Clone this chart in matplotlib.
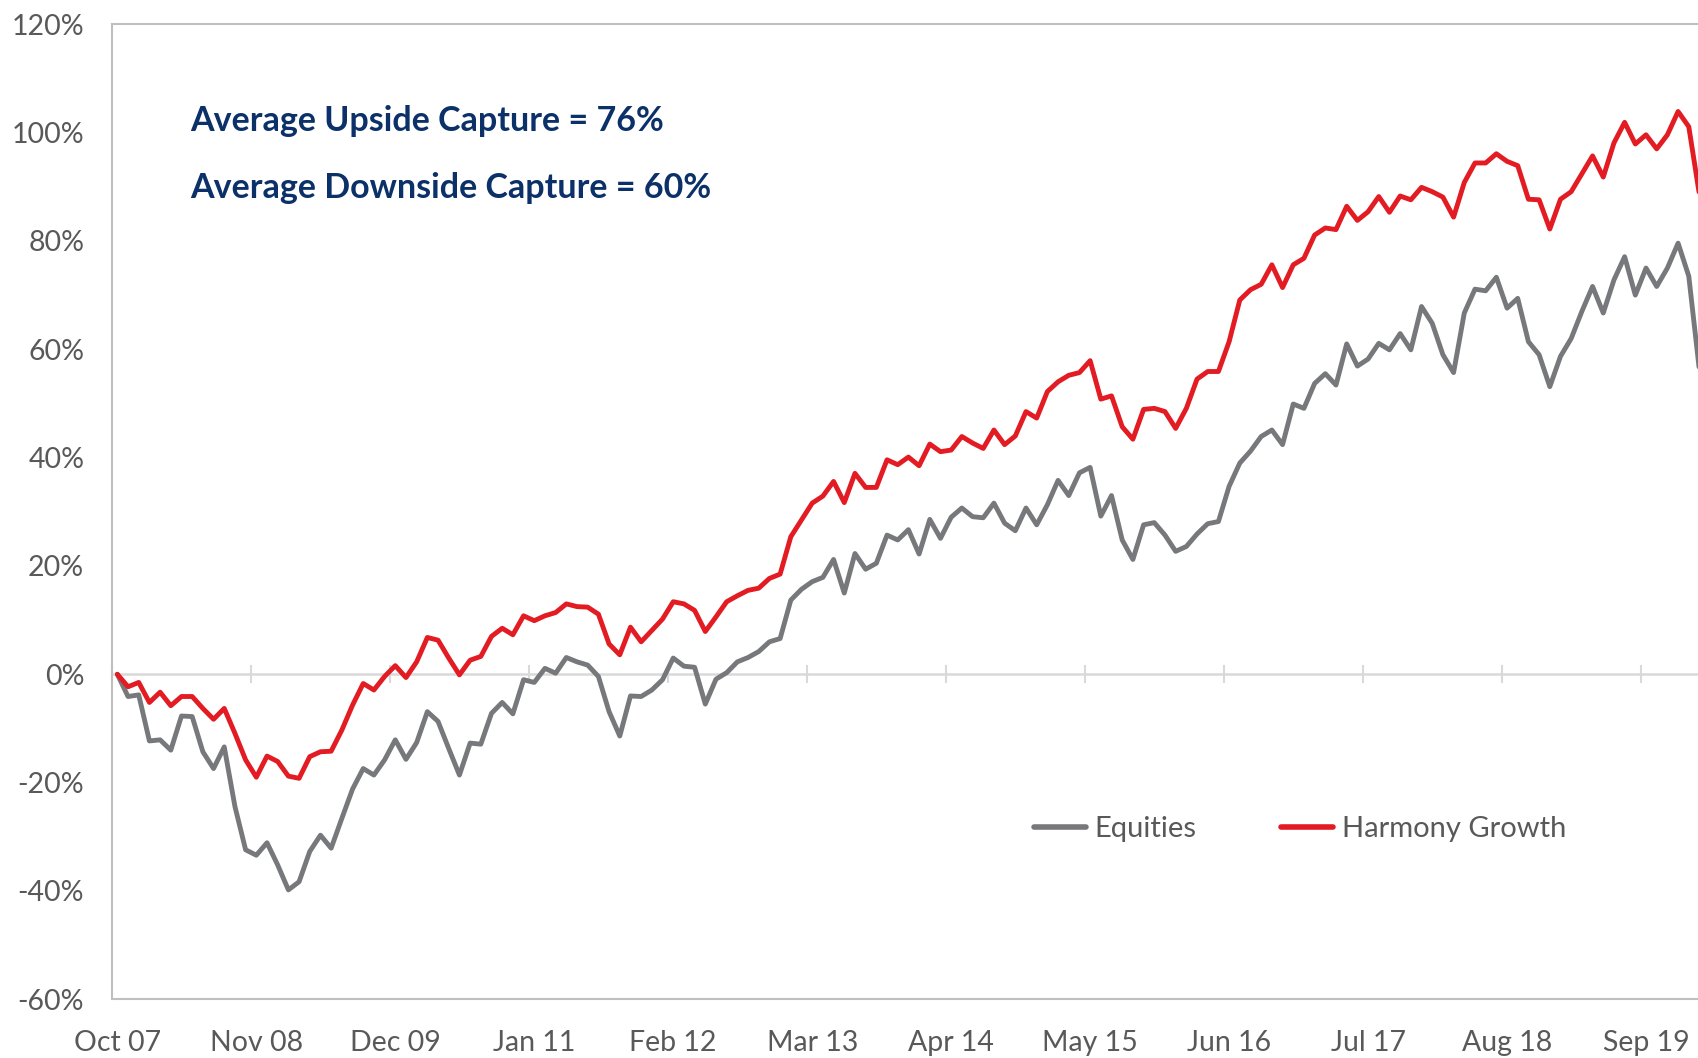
import matplotlib
matplotlib.use("Agg")
import matplotlib.pyplot as plt

# ---- data (cumulative return, %), monthly from Oct 07 ----
equities = [0, -4.1, -3.8, -12.3, -12.1, -14.0, -7.7, -7.8, -14.3, -17.4, -13.4, -24.4, -32.4, -33.4,
            -31.1, -35.2, -39.8, -38.3, -32.7, -29.7, -32.1, -26.6, -21.2, -17.4, -18.6, -15.8, -12.1,
            -15.7, -12.6, -6.9, -8.7, -13.7, -18.6, -12.7, -12.9, -7.2, -5.2, -7.3, -1.0, -1.5, 1.1,
            0.2, 3.1, 2.3, 1.7, -0.4, -6.9, -11.4, -4.0, -4.1, -2.9, -1.0, 3.0, 1.5,
            1.3, -5.5, -0.9, 0.3, 2.3, 3.1, 4.2, 6.0, 6.6, 13.7, 15.7, 17.1, 17.9, 21.2, 15.0, 22.3,
            19.4, 20.5, 25.7, 24.8, 26.7, 22.2, 28.6, 25.1, 29.0, 30.7, 29.1,
            28.9, 31.6, 27.9, 26.5, 30.7, 27.6, 31.3, 35.8, 33.0, 37.2, 38.2, 29.2, 33.0, 24.8, 21.2,
            27.6, 28.0, 25.7, 22.7, 23.6, 25.9, 27.8, 28.2, 34.7, 39.0,
            41.2, 43.9, 45.1, 42.4, 49.9, 49.1, 53.7, 55.5, 53.4, 61.0, 56.9, 58.2, 61.1, 59.9, 62.9,
            59.9, 67.9, 64.8, 59.0, 55.7, 66.7, 71.1, 70.8, 73.3, 67.6, 69.4, 61.4, 59.0, 53.1, 58.7,
            62.0, 67.0, 71.6, 66.7, 72.8, 77.1, 70.0, 75.0, 71.6, 75.0, 79.6, 73.5, 56.0]

harmony = [0, -2.3, -1.5, -5.2, -3.3, -5.8, -4.1, -4.1, -6.3, -8.3, -6.3, -10.9, -15.8, -19.0,
           -15.1, -16.1, -18.8, -19.2, -15.2, -14.3, -14.2, -10.3, -5.7, -1.7, -2.9, -0.4, 1.6,
           -0.6, 2.3, 6.8, 6.3, 3.0, -0.1, 2.6, 3.3, 7.0, 8.5, 7.3, 10.8, 9.9, 10.8, 11.4, 13.0,
           12.5, 12.4, 11.1, 5.6, 3.6, 8.7, 6.0, 8.1, 10.2, 13.4, 13.0,
           11.8, 7.9, 10.6, 13.4, 14.5, 15.5, 15.9, 17.7, 18.5, 25.4, 28.5, 31.6, 32.9, 35.6, 31.7,
           37.1, 34.5, 34.5, 39.6, 38.7, 40.1, 38.5, 42.5, 41.1, 41.4, 43.9, 42.7,
           41.7, 45.1, 42.4, 44.0, 48.5, 47.3, 52.2, 54.0, 55.2, 55.7, 57.9, 50.8, 51.4, 45.7, 43.4,
           48.9, 49.1, 48.5, 45.4, 49.1, 54.5, 55.9, 55.9, 61.4, 69.1,
           71.0, 72.0, 75.6, 71.4, 75.6, 76.8, 81.1, 82.4, 82.1, 86.4, 83.8, 85.4, 88.2, 85.3, 88.3,
           87.6, 89.9, 89.1, 88.1, 84.4, 90.8, 94.4, 94.4, 96.1, 94.7, 93.9, 87.7, 87.6, 82.2, 87.7,
           89.1, 92.4, 95.7, 91.8, 98.1, 101.9, 97.9, 99.6, 97.0, 99.6, 103.9, 101.1, 88.5]

tick_labels = ["Oct 07", "Nov 08", "Dec 09", "Jan 11", "Feb 12", "Mar 13", "Apr 14",
               "May 15", "Jun 16", "Jul 17", "Aug 18", "Sep 19"]
tick_step = 13
y_ticks = [-60, -40, -20, 0, 20, 40, 60, 80, 100, 120]
series_names = ["Equities", "Harmony Growth"]
notes = ["Average Upside Capture = 76%", "Average Downside Capture = 60%"]

# ---- style ----
plt.rcParams['font.family'] = ['Lato', 'DejaVu Sans']
GREY = '#77787b'
RED = '#e31b23'
NAVY = '#0b3168'
LABEL = '#595959'
FS = 20.5

W, H = 1698, 1058
fig = plt.figure(figsize=(W / 100, H / 100), dpi=100)
left, right, top, bottom = 112, W, 24.3, 999.3
ax = fig.add_axes([left / W, (H - bottom) / H, (right - left) / W, (bottom - top) / H])

x = list(range(len(equities)))
lkw = dict(lw=3.5, solid_joinstyle='round', solid_capstyle='round')
ax.plot(x, equities, color=GREY, label=series_names[0], **lkw)
ax.plot(x, harmony, color=RED, label=series_names[1], **lkw)

cat_w = 10.69
ax.set_xlim(-0.5, -0.5 + (right - left) / cat_w)
ax.set_ylim(y_ticks[0], y_ticks[-1])

ax.set_yticks(y_ticks)
ax.set_yticklabels([f"{v}%" for v in y_ticks])
ax.tick_params(axis='y', length=0, pad=20, labelsize=FS, labelcolor=LABEL)

xt = [i * tick_step for i in range(len(tick_labels))]
ax.set_xticks(xt)
ax.set_xticklabels(tick_labels)
ax.tick_params(axis='x', length=0, pad=22, labelsize=FS, labelcolor=LABEL)

for s in ['left', 'top', 'bottom']:
    ax.spines[s].set_color('#bfbfbf')
    ax.spines[s].set_linewidth(1.5)
ax.spines['right'].set_visible(False)

# horizontal category axis crossing at 0 with tick marks between categories
frac0 = (0 - y_ticks[0]) / (y_ticks[-1] - y_ticks[0])
sec = ax.secondary_xaxis(frac0)
sec.set_xticks([t - 0.5 for t in xt])
sec.tick_params(axis='x', direction='inout', length=13.5, width=1.5, color='#d9d9d9',
                labelbottom=False, labeltop=False)
sec.spines['bottom'].set_color('#d9d9d9')
sec.spines['bottom'].set_linewidth(1.8)
sec.spines['top'].set_visible(False)

# legend
leg = ax.legend(loc='center left', bbox_to_anchor=(1034 / W, 1 - 829 / H),
                bbox_transform=fig.transFigure, ncol=2, frameon=False, fontsize=21,
                handlelength=1.78, handletextpad=0.3, columnspacing=2.9, borderpad=0,
                borderaxespad=0)
for t in leg.get_texts():
    t.set_color(LABEL)
for h in leg.get_lines():
    h.set_linewidth(4.0)
    h.set_solid_capstyle('round')

# annotations
fig.text(190 / W, 1 - 121 / H, notes[0], fontsize=24.5, fontweight='bold', color=NAVY,
         ha='left', va='center')
fig.text(190 / W, 1 - 188 / H, notes[1], fontsize=24.5, fontweight='bold', color=NAVY,
         ha='left', va='center')

fig.savefig('out.png', dpi=100)
